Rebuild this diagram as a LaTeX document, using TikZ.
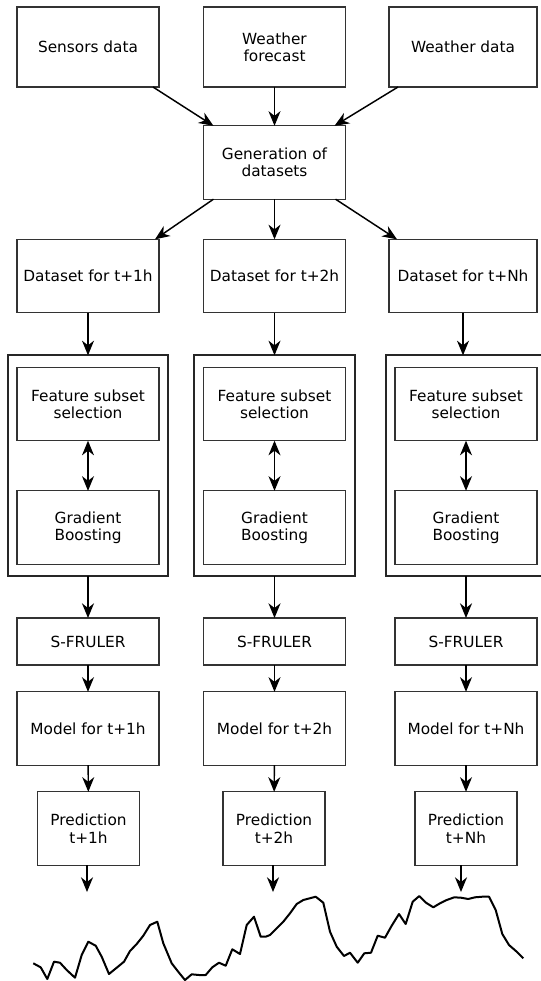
\documentclass[tikz,border=0pt]{standalone}
\usepackage{fontspec}
\setmainfont{DejaVu Sans}
\usetikzlibrary{arrows.meta,positioning,fit}

\begin{document}
\begin{tikzpicture}[x=0.75pt,y=-0.75pt,
  box/.style={rectangle,draw=black!80,line width=0.8pt,inner sep=0pt,outer sep=0pt,align=center,minimum width=106.5pt,minimum height=55pt,font=\fontsize{11.5}{13}\selectfont},
  tall box/.style={box,minimum height=60pt},
  low box/.style={box,minimum height=35.25pt},
  pred box/.style={box,minimum width=76.5pt},
  group box/.style={draw=black!85,line width=1.3pt,inner xsep=7pt,inner ysep=9pt,outer sep=0pt},
  flow/.style={-{Stealth[length=11pt,width=9pt,inset=3.5pt]},line width=1.1pt},
  twoway/.style={{Stealth[length=11pt,width=9pt,inset=3.5pt]}-{Stealth[length=11pt,width=9pt,inset=3.5pt]},line width=1.1pt}]
\useasboundingbox (0,0) rectangle (541,981);
% sources
\node[tall box] (sens) at (88,47) {Sensors data};
\node[tall box] (fore) at (274.5,47) {Weather\\forecast};
\node[tall box,minimum width=111pt] (wdat) at (463,47) {Weather data};
\node[box] (gen) at (274.5,162.5) {Generation of\\datasets};
% datasets
\node[box] (ds1) at (88,276) {Dataset for t+1h};
\node[box] (ds2) at (274.5,276) {Dataset for t+2h};
\node[box,minimum width=111pt] (ds3) at (463,276) {Dataset for t+Nh};
% feature selection + boosting
\node[box] (fs1) at (88,404) {Feature subset\\selection};
\node[box] (fs2) at (274.5,404) {Feature subset\\selection};
\node[box] (fs3) at (466,404) {Feature subset\\selection};
\node[box] (gb1) at (88,527.5) {Gradient\\Boosting};
\node[box] (gb2) at (274.5,527.5) {Gradient\\Boosting};
\node[box] (gb3) at (466,527.5) {Gradient\\Boosting};
\node[group box,fit=(fs1)(gb1)] (grp1) {};
\node[group box,fit=(fs2)(gb2)] (grp2) {};
\node[group box,fit=(fs3)(gb3)] (grp3) {};
% rules, models, predictions
\node[low box] (sf1) at (88,641.5) {S-FRULER};
\node[low box] (sf2) at (274.5,641.5) {S-FRULER};
\node[low box] (sf3) at (466,641.5) {S-FRULER};
\node[box] (mod1) at (88,728.5) {Model for t+1h};
\node[box] (mod2) at (274.5,728.5) {Model for t+2h};
\node[box] (mod3) at (466,728.5) {Model for t+Nh};
\node[pred box] (pr1) at (88.5,828.5) {Prediction\\t+1h};
\node[pred box] (pr2) at (274,828.5) {Prediction\\t+2h};
\node[pred box] (pr3) at (466,828.5) {Prediction\\t+Nh};
\coordinate (out1) at (87,892);
\coordinate (out2) at (273,892);
\coordinate (out3) at (461,892);
\begin{scope}[every edge/.style={draw,flow}]
\draw ([xshift=-4.5pt]sens.south east) edge ([xshift=7.5pt]gen.north west);
\draw (fore) edge (gen);
\draw ([xshift=6.75pt]wdat.south west) edge ([xshift=-8.25pt]gen.north east);
\draw ([xshift=7.5pt]gen.south west) edge ([xshift=-3pt]ds1.north east);
\draw (gen) edge (ds2);
\draw ([xshift=-7.5pt]gen.south east) edge ([xshift=6pt]ds3.north west);
\draw (ds1) edge (grp1);
\draw (ds2) edge (grp2);
\draw (ds3.south) edge (ds3.south |- grp3.north);
\draw (fs1) edge[twoway] (gb1);
\draw (fs2) edge[twoway] (gb2);
\draw (fs3) edge[twoway] (gb3);
\draw (grp1) edge (sf1);
\draw (grp2) edge (sf2);
\draw (grp3) edge (sf3);
\draw (sf1) edge (mod1);
\draw (sf2) edge (mod2);
\draw (sf3) edge (mod3);
\draw (mod1) edge (pr1);
\draw (mod2) edge (pr2);
\draw (mod3) edge (pr3);
\draw (pr1.south -| out1) edge (out1);
\draw (pr2.south -| out2) edge (out2);
\draw (pr3.south -| out3) edge (out3);
\end{scope}
% series
\draw[line width=1.5pt,line join=round] plot coordinates {(33.3,963.3) (40.7,967.3) (47.3,979) (54,961.7) (60,962.7) (66.7,970) (75,977.7) (81.7,955) (88.3,941.7) (95.7,945.7) (101.7,956.7) (109,974) (116.7,967.7) (124,961.7) (130,951) (136.7,944) (143.3,935.7) (150,925) (157.3,921.7) (163.3,943.3) (171.7,963.3) (179,972.7) (185,980) (191.7,974.3) (199,975) (205.7,975) (212.3,967.3) (219,962.7) (225.7,965.7) (232.3,949.3) (240,954) (246.7,925) (254,916.7) (260.7,936.7) (265.7,936.7) (270,935) (276.7,928.3) (283.3,921.7) (290,913.3) (296.7,904) (303.3,900) (315.7,896.7) (323.3,902.7) (330,931.7) (336.7,946.7) (344,956) (350,952.7) (357.7,962.7) (364.3,953.3) (371,952.7) (377.7,935.7) (385,937.7) (391.7,925.7) (399,914) (405.7,924) (412.7,901.7) (419.3,896) (426,902.7) (433.3,907.3) (440,903.3) (446.7,900) (454.3,897.3) (461,897.7) (468.3,899) (475,897.3) (482.3,896.7) (489,896.7) (495.7,910) (502.3,934) (509,945) (516.7,951.7) (523.3,958.3)};
\end{tikzpicture}
\end{document}
